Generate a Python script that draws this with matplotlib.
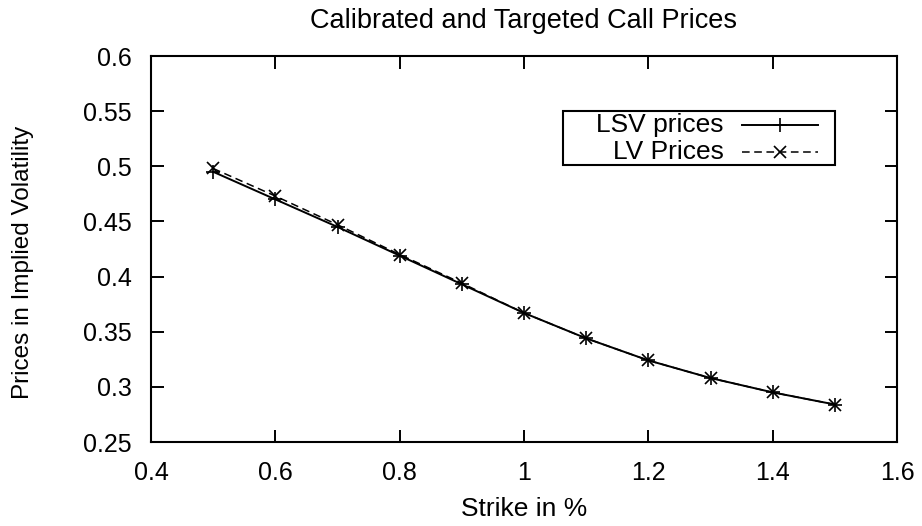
import matplotlib
matplotlib.use("Agg")
import matplotlib.pyplot as plt
from matplotlib.lines import Line2D
from matplotlib.patches import Rectangle

strike = [0.5, 0.6, 0.7, 0.8, 0.9, 1.0, 1.1, 1.2, 1.3, 1.4, 1.5]
lsv_prices = [0.495, 0.470, 0.445, 0.419, 0.393, 0.367, 0.344, 0.324, 0.308, 0.295, 0.284]
lv_prices = [0.498, 0.473, 0.447, 0.420, 0.394, 0.367, 0.344, 0.324, 0.308, 0.295, 0.284]
series_labels = ["LSV prices", "LV Prices"]
xticks = [0.4, 0.6, 0.8, 1.0, 1.2, 1.4, 1.6]
xticklabels = ["0.4", "0.6", "0.8", "1", "1.2", "1.4", "1.6"]
yticks = [0.25, 0.3, 0.35, 0.4, 0.45, 0.5, 0.55, 0.6]
yticklabels = ["0.25", "0.3", "0.35", "0.4", "0.45", "0.5", "0.55", "0.6"]

plt.rcParams['font.family'] = ['Liberation Sans', 'DejaVu Sans']

W, H = 922, 526
fig = plt.figure(figsize=(W / 100, H / 100), dpi=100)
L, R, T, B = 151, 897, 56, 442
ax = fig.add_axes([L / W, 1 - B / H, (R - L) / W, (B - T) / H])

solid = dict(color='black', linestyle='-', linewidth=1.4,
             marker='+', markersize=10, markeredgewidth=1.2)
dashed = dict(color='black', linestyle=(0, (5, 3)), linewidth=1.1,
              marker='x', markersize=9, markeredgewidth=1.2)
ax.plot(strike, lsv_prices, **solid)
ax.plot(strike, lv_prices, **dashed)

ax.set_xlim(0.4, 1.6)
ax.set_ylim(0.25, 0.6)
ax.set_xticks(xticks)
ax.set_xticklabels(xticklabels)
ax.set_yticks(yticks)
ax.set_yticklabels(yticklabels)
ax.tick_params(direction='in', length=9, width=1.4, top=True, right=True,
               labelsize=18, pad=14)
for s in ax.spines.values():
    s.set_linewidth(1.5)

def px(x):
    return (x - L) / (R - L)

def py(y):
    return (B - y) / (B - T)

ax.set_title("Calibrated and Targeted Call Prices", fontsize=19.5, pad=20)
ax.set_xlabel("Strike in %", fontsize=19, labelpad=8)
ax.set_ylabel("Prices in Implied Volatility", fontsize=17.5)
ax.yaxis.label.set_va('center')
ax.yaxis.set_label_coords(px(23), py(262))

# legend (gnuplot style: text right-aligned, sample on the right)
ax.add_patch(Rectangle((px(563), py(165)), px(835) - px(563), py(111) - py(165),
                       transform=ax.transAxes, fill=False, edgecolor='black',
                       linewidth=1.5, zorder=5))
rows = [(125, solid), (152, dashed)]
for (ypix, style), lab in zip(rows, series_labels):
    yy = py(ypix)
    ax.text(px(724), yy, lab, transform=ax.transAxes, ha='right', va='center',
            fontsize=19, zorder=6)
    ls = dict(style)
    ls.pop('marker'); ls.pop('markersize'); ls.pop('markeredgewidth')
    ax.add_line(Line2D([px(742), px(818)], [yy, yy], transform=ax.transAxes, zorder=6, **ls))
    ax.add_line(Line2D([px(780)], [yy], transform=ax.transAxes, linestyle='none',
                       color='black', marker=style['marker'],
                       markersize=style['markersize'],
                       markeredgewidth=style['markeredgewidth'], zorder=6))

fig.savefig("out.png", dpi=100)
